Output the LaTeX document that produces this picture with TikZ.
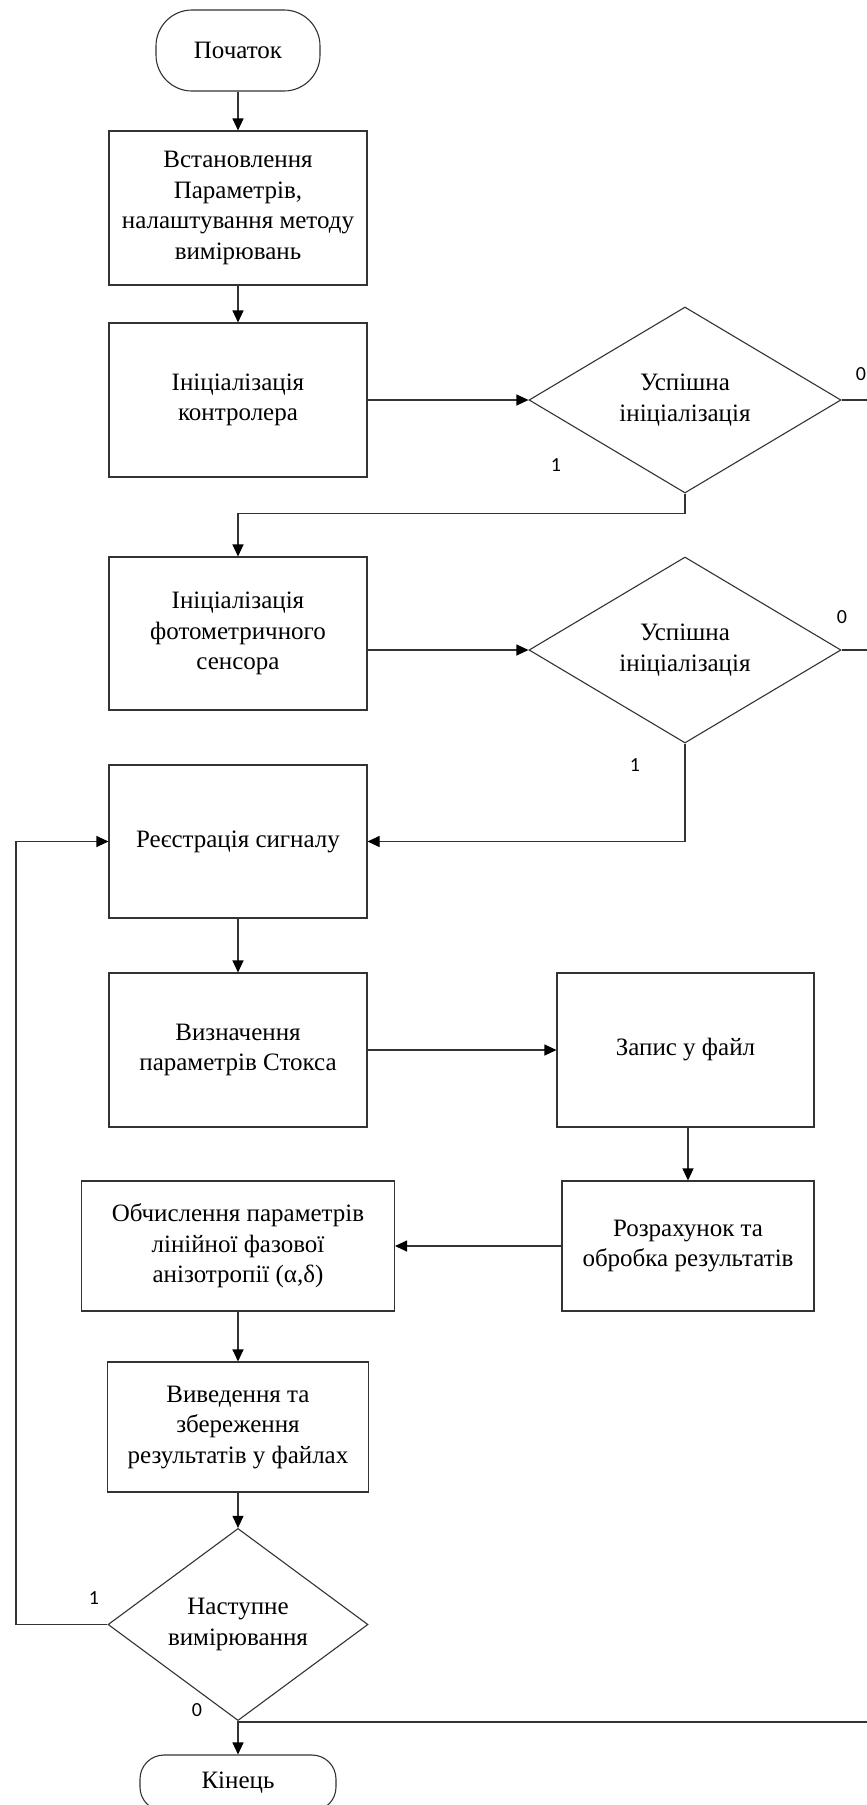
\documentclass[tikz,border=0pt]{standalone}
\usepackage{fontspec}
\setmainfont{Liberation Serif}
\newfontfamily\lblfont{Carlito}
\usetikzlibrary{shapes.geometric,arrows.meta}
\begin{document}
\begin{tikzpicture}[x=1pt,y=-1pt,
  line/.style={draw=black!80, line width=1.1pt},
  arr/.style={line, -{Triangle[length=12pt,width=11pt,color=black]}},
  proc/.style={draw=black!80, line width=1.1pt, rectangle, align=center, inner sep=0pt,
    font=\fontsize{25}{30.5}\selectfont},
  term/.style={proc, rounded corners=36pt},
  dec/.style={proc, diamond},
  lbl/.style={font=\lblfont\fontsize{20}{24}\selectfont, inner sep=0pt}]
\useasboundingbox (0,0) rectangle (867,1805);
\clip (0,0) rectangle (867,1805);
\fill[white] (0,0) rectangle (867,1805);

% nodes
\node[term, minimum width=164pt, minimum height=81pt] (start) at (238,50.5) {Початок};
\node[proc, minimum width=258pt, minimum height=154pt] (b1) at (238,208) {Встановлення\\Параметрів,\\налаштування методу\\вимірювань};
\node[proc, minimum width=258pt, minimum height=154pt] (b2) at (238,400) {Ініціалізація\\контролера};
\node[dec, minimum width=312pt, minimum height=186pt] (d1) at (685,400) {Успішна\\ініціалізація};
\node[proc, minimum width=258pt, minimum height=153pt] (b3) at (238,633.5) {Ініціалізація\\фотометричного\\сенсора};
\node[dec, minimum width=312pt, minimum height=186pt] (d2) at (685,650) {Успішна\\ініціалізація};
\node[proc, minimum width=258pt, minimum height=153pt] (b4) at (238,841.5) {Реєстрація сигналу};
\node[proc, minimum width=258pt, minimum height=154pt] (b5) at (238,1050) {Визначення\\параметрів Стокса};
\node[proc, minimum width=257pt, minimum height=154pt] (b6) at (685.5,1050) {Запис у файл};
\node[proc, minimum width=252pt, minimum height=130pt] (b7) at (688,1246) {Розрахунок та\\обробка результатів};
\node[proc, minimum width=313pt, minimum height=130pt] (b8) at (238,1246) {Обчислення параметрів\\лінійної фазової\\анізотропії (α,δ)};
\node[proc, minimum width=261pt, minimum height=130pt] (b9) at (238,1427) {Виведення та\\збереження\\результатів у файлах};
\node[dec, minimum width=260pt, minimum height=155pt] (d3) at (238,1624.5) {Наступне\\вимірювання};
\node[term, rounded corners=24pt, minimum width=196pt, minimum height=56pt] (end) at (238,1783) {Кінець};

% helper coordinates
\coordinate (edge) at (867,0);
\coordinate (loopx) at (16,0);
\coordinate (br) at (238,1722);

% connectors
\draw[arr] (start) -- (b1);
\draw[arr] (b1) -- (b2);
\draw[arr] (b2.east) -- (d1.west);
\draw[line] (d1.east) -- (d1.east -| edge);
\draw[arr] (d1.south) -- ++(0,20) -| (b3.north);
\draw[arr] (b3.east |- d2.west) -- (d2.west);
\draw[line] (d2.east) -- (d2.east -| edge);
\draw[arr] (d2.south) |- (b4.east);
\draw[arr] (b4) -- (b5);
\draw[arr] (b5.east) -- (b6.west);
\draw[arr] (b6.south -| b7.north) -- (b7.north);
\draw[arr] (b7.west) -- (b8.east);
\draw[arr] (b8) -- (b9);
\draw[arr] (b9) -- (d3);
\draw[arr] (d3.west) -- (d3.west -| loopx) |- (b4.west);
\draw[arr] (d3.south) -- (end.north);
\draw[line] (br) -- (br -| edge);

% labels
\node[lbl] (l0a) at (861,374) {0};
\node[lbl] (l1a) at (556,465) {1};
\node[lbl] (l0b) at (842,617) {0};
\node[lbl] (l1b) at (635,765) {1};
\node[lbl] (l1c) at (94,1598) {1};
\node[lbl] (l0c) at (197,1710) {0};
\end{tikzpicture}
\end{document}
